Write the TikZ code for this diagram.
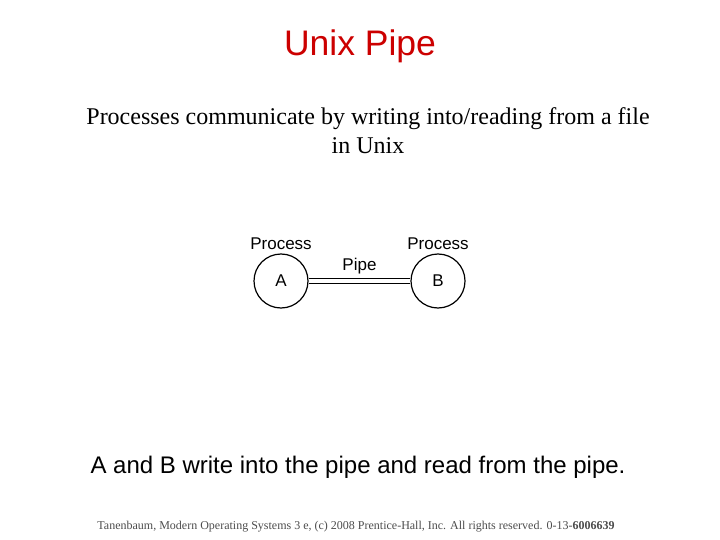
\documentclass[tikz,border=0pt]{standalone}
\usepackage{fontspec}
\setmainfont{Liberation Serif}
\setsansfont{Liberation Sans}
\usepackage{xcolor}
\usetikzlibrary{positioning}
\definecolor{titlered}{RGB}{204,0,0}
\begin{document}
\begin{tikzpicture}[
    x=1pt, y=-1pt,
    proc/.style={circle, draw, line width=1.2pt, minimum size=54pt, inner sep=0pt, font=\sffamily\fontsize{17}{19}\selectfont},
    lbl/.style={font=\sffamily\fontsize{17}{19}\selectfont},
    pipe/.style={double, double distance=4pt, line width=1pt}
]
    \useasboundingbox (0,0) rectangle (720,540);
    % Title and text
    \node[font=\sffamily\fontsize{35.5}{40}\selectfont, text=titlered] (title) at (360,46) {Unix Pipe};
    \node[font=\fontsize{24}{29}\selectfont, align=center] (intro) at (368,131)
        {Processes communicate by writing into/reading from a file\\in Unix};
    % Processes
    \node[proc] (a) at (281,281) {A};
    \node[proc] (b) at (438,281) {B};
    \node[lbl, above=0pt of a] (pa) {Process};
    \node[lbl, above=0pt of b] (pb) {Process};
    \draw[pipe] (a) -- (b) node[midway, lbl, above=3pt] (pipelbl) {Pipe};
    % Bottom text
    \node[font=\sffamily\fontsize{24}{28}\selectfont] (rw) at (358,467)
        {A and B write into the pipe and read from the pipe.};
    \node[font=\fontsize{12}{14}\selectfont, text=gray!60!black] (credit) at (356,527)
        {Tanenbaum, Modern Operating Systems 3 e, (c) 2008 Prentice-Hall, Inc. All rights reserved. 0-13-\textbf{6006639}};
\end{tikzpicture}
\end{document}
